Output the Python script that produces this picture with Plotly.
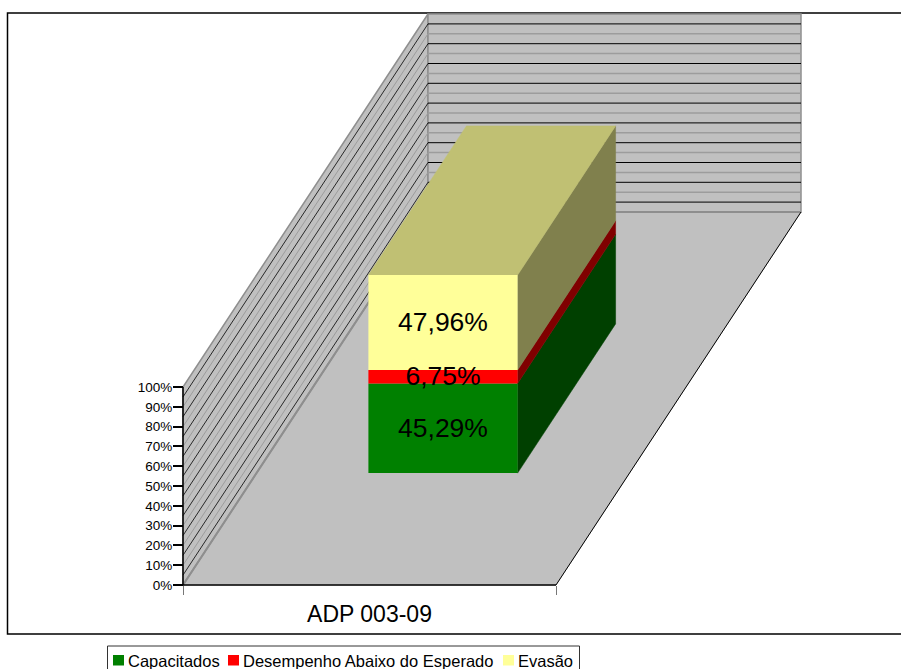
import plotly.graph_objects as go

# ---- data ----
CATEGORY = "ADP 003-09"
SERIES = ["Capacitados", "Desempenho Abaixo do Esperado", "Evasão"]
VALUES = [45.29, 6.75, 47.96]
LABELS = ["45,29%", "6,75%", "47,96%"]
TICKS = [0, 10, 20, 30, 40, 50, 60, 70, 80, 90, 100]
TICK_TEXT = ["0%", "10%", "20%", "30%", "40%", "50%", "60%", "70%", "80%", "90%", "100%"]
FRONT = ["#008000", "#FF0000", "#FFFF99"]
SIDE = ["#004000", "#800000", "#80804D"]
TOP = "#C0C073"
WALL = "#C0C0C0"
GRID_GREY = "#9C9C9C"
EDGE_GREY = "#8E8E8E"
LEGEND_X = [113, 228, 503]
LEGEND_TEXT_X = [128, 243, 518]

W, H = 901, 669
# pixel calibration of the chart's plane
X0, X1 = 183, 556      # category axis ends
Y0, Y100 = 585, 387    # value axis 0% and 100%
PX_X = X1 - X0
PX_Y = (Y0 - Y100) / 100
DEPTH_X = 245 / PX_X   # oblique depth vector in data units
DEPTH_Y = 373 / PX_Y
BAR_A, BAR_B = 0.3, 0.7   # extent of bar across width and depth
LABEL_NUDGE = 2 / PX_Y    # text baseline correction
xrange_ = [-X0 / PX_X, (W - X0) / PX_X]
yrange_ = [-(H - Y0) / PX_Y, Y0 / PX_Y]


def proj(c, v, d):
    """category position, value, depth -> plane coordinates"""
    return c + d * DEPTH_X, v + d * DEPTH_Y


def poly(points, color, line=None, lw=1):
    xs, ys = zip(*[proj(*p) for p in points + points[:1]])
    return go.Scatter(x=xs, y=ys, mode="lines", fill="toself", fillcolor=color,
                      line=dict(color=line or color, width=lw),
                      hoverinfo="skip", showlegend=False)


def seg(a, b, color, lw=1):
    xs, ys = zip(proj(*a), proj(*b))
    return go.Scatter(x=xs, y=ys, mode="lines", line=dict(color=color, width=lw),
                      hoverinfo="skip", showlegend=False)


fig = go.Figure()

# walls and floor
fig.add_trace(poly([(0, 0, 0), (1, 0, 0), (1, 0, 1), (0, 0, 1)], WALL))
fig.add_trace(poly([(0, 0, 0), (0, 100, 0), (0, 100, 1), (0, 0, 1)], WALL, EDGE_GREY, 1.5))
fig.add_trace(poly([(0, 0, 1), (0, 100, 1), (1, 100, 1), (1, 0, 1)], WALL, EDGE_GREY, 1.5))

# grid on the walls: grey at every tick, black half way between
for t in TICKS[1:-1]:
    fig.add_trace(seg((0, t, 0), (0, t, 1), GRID_GREY, 1))
    fig.add_trace(seg((0, t, 1), (1, t, 1), GRID_GREY, 1.5))
for t in TICKS[:-1]:
    m = t + 5
    fig.add_trace(seg((0, m, 0), (0, m, 1), "#000000", 0.8))
    fig.add_trace(seg((0, m, 1), (1, m, 1), "#000000", 1))

# floor edges
fig.add_trace(seg((0, 0, 0), (0, 0, 1), EDGE_GREY, 2))
fig.add_trace(seg((0, 0, 1), (1, 0, 1), EDGE_GREY, 2))
fig.add_trace(seg((1, 0, 0), (1, 0, 1), "#000000", 1))
fig.add_trace(seg((0, 0, 0), (1, 0, 0), "#000000", 1.5))
fig.add_trace(seg((0, 0, 0), (0, 100, 0), "#000000", 1.5))

# bar side and top faces
base = 0
for v, col in zip(VALUES, SIDE):
    fig.add_trace(poly([(BAR_B, base, BAR_A), (BAR_B, base + v, BAR_A),
                        (BAR_B, base + v, BAR_B), (BAR_B, base, BAR_B)], col, col, 0.5))
    base += v
fig.add_trace(poly([(BAR_A, base, BAR_A), (BAR_B, base, BAR_A),
                    (BAR_B, base, BAR_B), (BAR_A, base, BAR_B)], TOP, TOP, 0.5))

# bar front faces, on an overlaid copy of the plane
base = 0
label_x, label_y = [], []
for name, v, col in zip(SERIES, VALUES, FRONT):
    cx, by = proj((BAR_A + BAR_B) / 2, base, BAR_A)
    fig.add_trace(go.Bar(x=[cx], y=[v], base=[by], width=[BAR_B - BAR_A], name=name,
                         marker=dict(color=col, line=dict(width=0)),
                         xaxis="x2", yaxis="y2", showlegend=False))
    label_x.append(cx)
    label_y.append(by + v / 2 - LABEL_NUDGE)
    base += v

# value labels above every bar segment
fig.add_trace(go.Scatter(x=label_x, y=label_y, text=LABELS, mode="text",
                         textposition="middle center", xaxis="x2", yaxis="y2",
                         textfont=dict(color="#000000", size=26.5, family="Liberation Sans"),
                         hoverinfo="skip", showlegend=False, cliponaxis=False))

shapes = [dict(type="rect", xref="paper", yref="paper", layer="below",
               x0=7.5 / W, x1=1.01, y0=1 - 634 / H, y1=1 - 13 / H,
               line=dict(color="#000000", width=1.5), fillcolor="white"),
          dict(type="rect", xref="paper", yref="paper",
               x0=107.5 / W, x1=579.5 / W, y0=1 - 672 / H, y1=1 - 646 / H,
               line=dict(color="#333333", width=1), fillcolor="white")]
annotations = []
for name, col, sx, tx in zip(SERIES, FRONT, LEGEND_X, LEGEND_TEXT_X):
    shapes.append(dict(type="rect", xref="paper", yref="paper",
                       x0=sx / W, x1=(sx + 11) / W, y0=1 - 665.5 / H, y1=1 - 655 / H,
                       line=dict(width=0), fillcolor=col))
    annotations.append(dict(xref="paper", yref="paper", x=tx / W, y=1 - 660.5 / H,
                            xanchor="left", yanchor="middle", showarrow=False, text=name,
                            borderpad=0, borderwidth=0,
                            font=dict(size=16.5, color="#000000", family="Liberation Sans")))

fig.update_layout(
    width=W, height=H, margin=dict(l=0, r=0, t=0, b=0), autosize=False,
    paper_bgcolor="white", plot_bgcolor="rgba(0,0,0,0)", showlegend=False,
    barmode="overlay", shapes=shapes, annotations=annotations,
    font=dict(family="Liberation Sans", color="#000000"),
    xaxis=dict(range=xrange_, anchor="free", position=(H - Y0) / H, showgrid=False,
               zeroline=False, showline=False, tickmode="array", tickvals=[0.5],
               ticktext=[CATEGORY], ticks="outside", ticklen=0, ticklabelstandoff=8,
               tickfont=dict(size=23, color="#000000"),
               minor=dict(tickmode="array", tickvals=[0, 1], ticks="outside", ticklen=9,
                          tickwidth=1, tickcolor="#777777", showgrid=False)),
    yaxis=dict(range=yrange_, anchor="free", position=X0 / W, showgrid=False,
               zeroline=False, showline=False, tickmode="array", tickvals=TICKS,
               ticktext=TICK_TEXT, ticks="outside", ticklen=10, tickwidth=1.5,
               tickcolor="#000000", ticklabelstandoff=-2,
               tickfont=dict(size=13.5, color="#000000")),
    xaxis2=dict(range=xrange_, overlaying="x", visible=False),
    yaxis2=dict(range=yrange_, overlaying="y", visible=False),
)

fig.write_html("out.html", config={"displayModeBar": False},
               post_script="document.body.style.margin='0';document.body.style.overflow='hidden';")
